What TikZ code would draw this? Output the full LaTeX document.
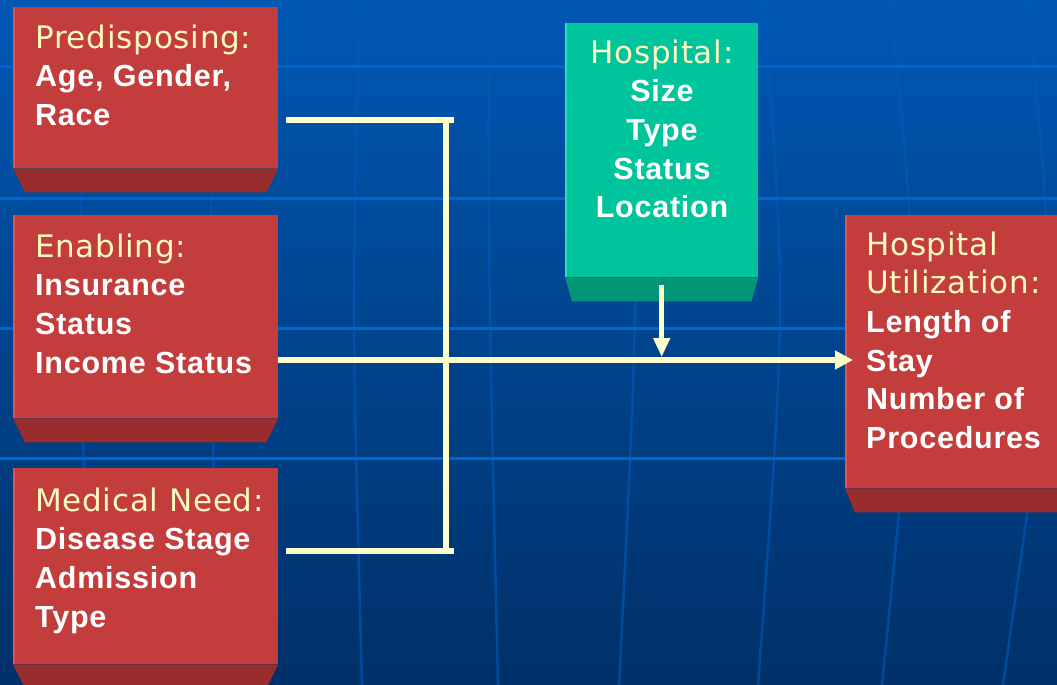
\documentclass[tikz,border=0pt]{standalone}
\usepackage{fontspec}
\setmainfont{Liberation Sans}
\newfontfamily\ttlfont{DejaVu Sans}[LetterSpace=2.5]
\newfontfamily\bdyfont{Liberation Sans}[LetterSpace=2.5]
\usetikzlibrary{arrows.meta}
\definecolor{bgtop}{RGB}{0,88,180}
\definecolor{bgmid}{RGB}{0,70,146}
\definecolor{bgbot}{RGB}{0,48,104}
\definecolor{gridh}{RGB}{0,102,204}
\definecolor{gridv}{RGB}{0,90,190}
\definecolor{redface}{RGB}{195,61,61}
\definecolor{redbevel}{RGB}{153,45,45}
\definecolor{redlight}{RGB}{226,82,78}
\definecolor{grnface}{RGB}{0,196,156}
\definecolor{grnbevel}{RGB}{0,150,118}
\definecolor{grnlight}{RGB}{40,222,182}
\definecolor{ttlcol}{RGB}{255,250,190}
\definecolor{conn}{RGB}{255,255,204}
\newcommand{\ttl}[1]{{\ttlfont\mdseries\fontsize{31}{38.6}\selectfont\color{ttlcol}\rule{0pt}{26pt}#1}}
\tikzset{
  face/.style={anchor=north west, inner sep=0pt, draw=none},
  redbox/.style={face, fill=redface},
  grnbox/.style={face, fill=grnface},
  txt/.style={inner sep=0pt, text=white, font=\bdyfont\bfseries\fontsize{30.5}{38.6}\selectfont},
  conline/.style={draw=conn, line width=5.5pt},
  hgrid/.style={draw=gridh, line width=3pt},
  vgrid/.style={draw=gridv, line width=2.5pt, draw opacity=0.6}
}
\begin{document}
\begin{tikzpicture}[x=1pt,y=-1pt]
\useasboundingbox (0,0) rectangle (1057,685);
% background
\shade[top color=bgtop, middle color=bgmid, bottom color=bgbot] (0,0) rectangle (1057,685);
\draw[vgrid] (80,0) .. controls (81.7,300) .. (86,685);
\draw[vgrid] (210,0) .. controls (211.7,300) .. (216,685);
\draw[vgrid] (360,0) .. controls (351.7,300) .. (362,685);
\draw[vgrid] (488,0) .. controls (489,300) .. (498,685);
\draw[vgrid] (630,0) .. controls (638.5,300) .. (619,685);
\draw[vgrid] (763,0) .. controls (786.5,300) .. (758,685);
\draw[vgrid] (890,0) .. controls (920.7,300) .. (882,685);
\draw[vgrid] (1027,0) .. controls (1057.7,300) .. (1003,685);
\foreach \yy in {67,198,328,458} \draw[hgrid] (0,\yy) -- (1057,\yy);
% boxes
\node[redbox, minimum width=265pt, minimum height=161pt] (b1) at (13,7) {};
\node[redbox, minimum width=265pt, minimum height=203pt] (b2) at (13,215) {};
\node[redbox, minimum width=265pt, minimum height=196pt] (b3) at (13,468) {};
\node[grnbox, minimum width=193pt, minimum height=254pt] (hosp) at (565,23) {};
\node[redbox, minimum width=230pt, minimum height=273pt] (util) at (845,215) {};
% bevels
\foreach \b/\s in {b1/12,b2/12,b3/12,util/10}{
  \fill[redbevel] (\b.south west) -- (\b.south east) -- ([xshift=-\s pt,yshift=-24pt]\b.south east) -- ([xshift=\s pt,yshift=-24pt]\b.south west) -- cycle;
  \draw[redlight, line width=2pt] ([xshift=1pt]\b.north west) -- ([xshift=1pt]\b.south west);
}
\fill[grnbevel] (hosp.south west) -- (hosp.south east) -- ([xshift=-7pt,yshift=-24pt]hosp.south east) -- ([xshift=7pt,yshift=-24pt]hosp.south west) -- cycle;
\draw[grnlight, line width=2pt] ([xshift=1pt]hosp.north west) -- ([xshift=1pt]hosp.south west);
% texts
\node[txt, anchor=north west, align=left] (t1) at (35,22) {\ttl{Predisposing:}\\Age, Gender,\\Race};
\node[txt, anchor=north west, align=left] (t2) at (35,231) {\ttl{Enabling:}\\Insurance\\Status\\Income Status};
\node[txt, anchor=north west, align=left] (t3) at (35,485) {\ttl{Medical Need:}\\Disease Stage\\Admission\\Type};
\node[txt, anchor=north, align=center] (th) at (662,37) {\ttl{Hospital:}\\Size\\Type\\Status\\Location};
\node[txt, anchor=north west, align=left] (tu) at (866,229) {\ttl{Hospital}\\\ttl{Utilization:}\\Length of\\Stay\\Number of\\Procedures};
% connectors
\coordinate (jt) at (446,120);
\coordinate (jm) at (446,360);
\coordinate (jb) at (446,551);
\draw[conline] (jt) -- (jb);
\draw[conline] ([xshift=8pt]b1.east |- jt) -- ([xshift=8pt]jt);
\draw[conline] ([xshift=8pt]b3.east |- jb) -- ([xshift=8pt]jb);
\draw[conline, -{Triangle[length=18pt,width=18pt]}] (b2.east |- jm) -- ([xshift=8pt]util.west |- jm);
\draw[conline, -{Triangle[length=19pt,width=16pt]}] ([yshift=-8pt]hosp.south) -- ([yshift=3pt]hosp.south |- jm);
\end{tikzpicture}
\end{document}
